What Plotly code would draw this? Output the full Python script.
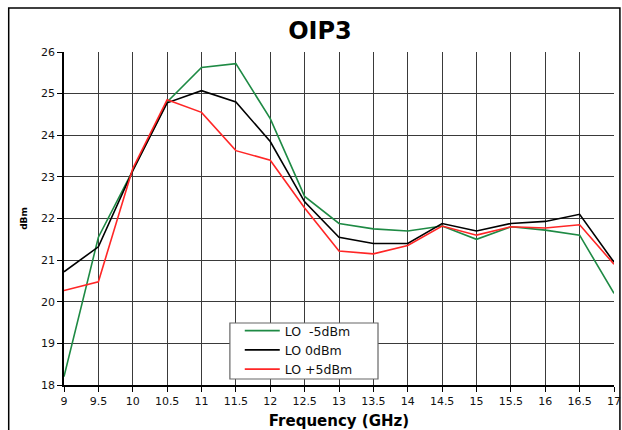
import plotly.graph_objects as go

freq = [9, 9.5, 10, 10.5, 11, 11.5, 12, 12.5, 13, 13.5, 14, 14.5, 15, 15.5, 16, 16.5, 17]
lo_m5 = [18.2, 21.55, 23.15, 24.8, 25.63, 25.72, 24.4, 22.53, 21.88, 21.75, 21.7, 21.82, 21.5, 21.8, 21.72, 21.6, 20.2]
lo_0 = [20.72, 21.32, 23.15, 24.78, 25.07, 24.8, 23.85, 22.4, 21.55, 21.4, 21.4, 21.88, 21.7, 21.88, 21.93, 22.1, 20.95]
lo_p5 = [20.27, 20.48, 23.2, 24.85, 24.55, 23.63, 23.4, 22.25, 21.22, 21.15, 21.35, 21.82, 21.6, 21.8, 21.77, 21.85, 20.9]
names = ["LO  -5dBm", "LO 0dBm", "LO +5dBm"]
colors = ["#1e8a44", "#000000", "#ff2626"]
x_ticks = [9, 9.5, 10, 10.5, 11, 11.5, 12, 12.5, 13, 13.5, 14, 14.5, 15, 15.5, 16, 16.5, 17]
x_ticktext = ["9", "9.5", "10", "10.5", "11", "11.5", "12", "12.5", "13", "13.5", "14", "14.5", "15", "15.5", "16", "16.5", "17"]

fig = go.Figure()
for ys, nm, c in zip([lo_m5, lo_0, lo_p5], names, colors):
    fig.add_trace(go.Scatter(x=freq, y=ys, mode="lines", name=nm,
                             line=dict(color=c, width=1.6)))

L, R, T, B = 64, 1, 52, 45
W, H = 622, 430
pw, ph = W - L - R, H - T - B
FONT = "DejaVu Sans, Arial, sans-serif"


def px_x(p):
    return (p - L) / pw


def px_y(p):
    return (H - B - p) / ph


fig.update_layout(
    width=W, height=H,
    margin=dict(l=L, r=R, t=T, b=B),
    paper_bgcolor="white", plot_bgcolor="white",
    font=dict(family=FONT, color="#111"),
    title=dict(text="<b>OIP3</b>", x=320 / W, xanchor="center",
               y=1 - 31 / H, yanchor="middle", font=dict(size=24, color="#000")),
    showlegend=True,
    legend=dict(x=px_x(242), y=px_y(316), xanchor="left", yanchor="top",
                bgcolor="rgba(0,0,0,0)", borderwidth=0,
                font=dict(size=12.5), tracegroupgap=0, itemwidth=35),
    xaxis=dict(range=[9, 17], tickvals=x_ticks, ticktext=x_ticktext,
               showgrid=True, gridcolor="#3a3a3a", gridwidth=1,
               showline=True, linecolor="#000", linewidth=1.5,
               ticks="outside", ticklen=5, tickcolor="#000",
               tickfont=dict(size=11), zeroline=False, ticklabeloverflow="allow",
               title=dict(text="<b>Frequency (GHz)</b>", font=dict(size=15, color="#000"), standoff=9)),
    yaxis=dict(range=[18, 26], dtick=1,
               showgrid=True, gridcolor="#3a3a3a", gridwidth=1,
               showline=True, linecolor="#000", linewidth=1.5,
               ticks="outside", ticklen=5, tickcolor="#000",
               tickfont=dict(size=11), zeroline=False,
               title=dict(text="<b>dBm</b>", font=dict(size=9, color="#000"), standoff=12)),
)

# legend box
fig.add_shape(type="rect", xref="paper", yref="paper",
              x0=px_x(232), x1=px_x(382), y0=px_y(379), y1=px_y(323),
              line=dict(color="#666", width=1.2), fillcolor="white", layer="above")

# outer chart frame
fig.add_shape(type="rect", xref="paper", yref="paper",
              x0=px_x(8), x1=px_x(W + 5),
              y0=px_y(H + 5), y1=px_y(8),
              line=dict(color="#000", width=1.5), fillcolor="rgba(0,0,0,0)", layer="below")

fig.write_html("out.html", config={"displayModeBar": False},
               post_script="document.body.style.margin='0';document.body.style.overflow='hidden';")
